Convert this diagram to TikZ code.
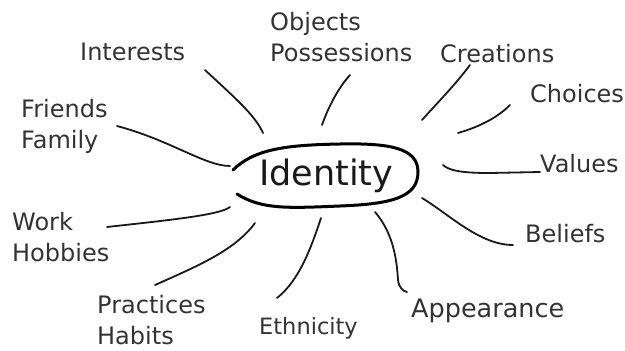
\documentclass[tikz,border=0pt]{standalone}
\usepackage{fontspec}
\setmainfont{DejaVu Sans}
\usetikzlibrary{positioning}

\begin{document}
\begin{tikzpicture}[
   x=1pt,y=-1pt,
   lbl/.style={inner sep=0pt,align=left,text=black!80,font=\fontsize{24}{31}\selectfont},
   hub/.style={inner sep=0pt,text=black!90,font=\fontsize{35}{40}\selectfont},
   spoke/.style={line width=1.8pt,line cap=round,black!90},
   loop/.style={line width=3pt,line cap=round,black}]
  \useasboundingbox (0,0) rectangle (625,351);
  % centre word and its open oval
  \node[hub,anchor=base west] (identity) at (259,185) {Identity};
  \draw[loop] (233,170) .. controls (255,148) and (290,145) .. (340,144)
     .. controls (390,143) and (418,148) .. (418,172)
     .. controls (418,198) and (390,204) .. (340,206)
     .. controls (290,208) and (262,210) .. (237,194);
  % labels round the oval
  \node[lbl,anchor=base west] (interests) at (80,60) {Interests};
  \node[lbl,anchor=north west] (objects) at (270,12) {Objects\\Possessions};
  \node[lbl,anchor=base west] (creations) at (440,62) {Creations};
  \node[lbl,anchor=base west] (choices) at (530,102) {Choices};
  \node[lbl,anchor=base west] (values) at (540,172) {Values};
  \node[lbl,anchor=base west] (beliefs) at (525,242) {Beliefs};
  \node[lbl,anchor=base west,font=\fontsize{25.5}{31}\selectfont] (appearance) at (411,317) {Appearance};
  \node[lbl,anchor=base west,font=\fontsize{22.5}{31}\selectfont] (ethnicity) at (259,334) {Ethnicity};
  \node[lbl,anchor=north west] (practices) at (97,295) {Practices\\Habits};
  \node[lbl,anchor=north west] (work) at (12,212) {Work\\Hobbies};
  \node[lbl,anchor=north west] (friends) at (21,99) {Friends\\Family};
  % spoke ends
  \coordinate (int-a) at (263,133);  \coordinate (int-b) at (205,70);
  \coordinate (obj-a) at (322,125);  \coordinate (obj-b) at (350,75);
  \coordinate (cre-a) at (422,120);  \coordinate (cre-b) at (470,65);
  \coordinate (cho-a) at (458,133);  \coordinate (cho-b) at (510,105);
  \coordinate (val-a) at (443,165);  \coordinate (val-b) at (540,172);
  \coordinate (bel-a) at (422,198);  \coordinate (bel-b) at (513,245);
  \coordinate (app-a) at (375,212);  \coordinate (app-b) at (407,292);
  \coordinate (eth-a) at (321,218);  \coordinate (eth-b) at (277,298);
  \coordinate (pra-a) at (255,223);  \coordinate (pra-b) at (155,285);
  \coordinate (wor-a) at (230,207);  \coordinate (wor-b) at (107,227);
  \coordinate (fri-a) at (230,166);  \coordinate (fri-b) at (117,126);
  % spokes
  \draw[spoke] (int-a) .. controls (255,115) and (235,98) .. (int-b);
  \draw[spoke] (obj-a) .. controls (328,108) and (338,88) .. (obj-b);
  \draw[spoke] (cre-a) .. controls (440,100) and (455,85) .. (cre-b);
  \draw[spoke] (cho-a) .. controls (475,128) and (495,120) .. (cho-b);
  \draw[spoke] (val-a) .. controls (450,172) and (470,173) .. (490,173) -- (val-b);
  \draw[spoke] (bel-a) .. controls (450,215) and (480,245) .. (bel-b);
  \draw[spoke] (app-a) .. controls (395,235) and (397,265) .. (398,280)
     .. controls (399,288) and (403,291) .. (app-b);
  \draw[spoke] (eth-a) .. controls (312,245) and (300,280) .. (eth-b);
  \draw[spoke] (pra-a) .. controls (235,250) and (200,265) .. (pra-b);
  \draw[spoke] (wor-a) .. controls (220,215) and (170,220) .. (wor-b);
  \draw[spoke] (fri-a) .. controls (205,166) and (170,140) .. (fri-b);
\end{tikzpicture}
\end{document}
